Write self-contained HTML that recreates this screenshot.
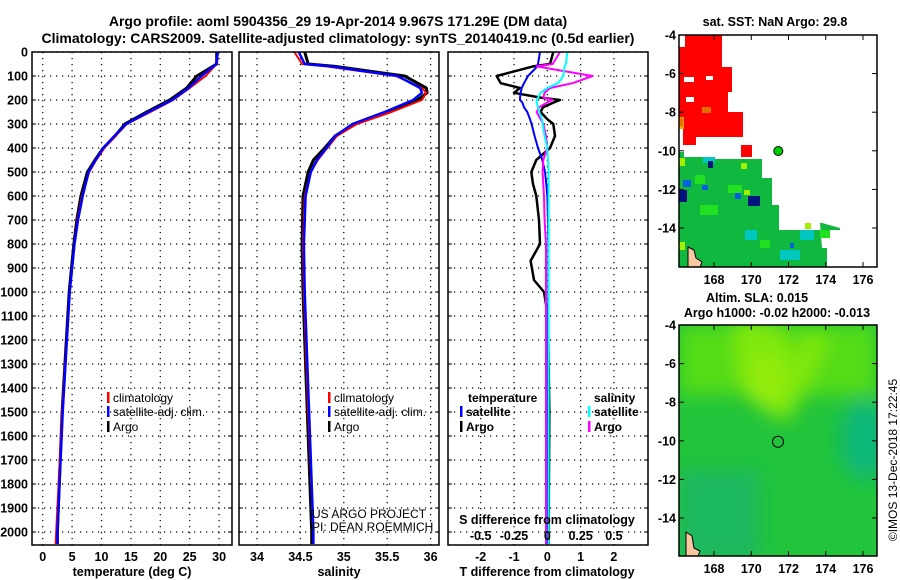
<!DOCTYPE html>
<html><head><meta charset="utf-8"><style>
body{margin:0;background:#fff}
svg{display:block;font-family:"Liberation Sans",sans-serif}
.b{font-weight:bold}
</style></head><body>
<svg id="c" width="900" height="580" viewBox="0 0 900 580">
<defs>
<filter id="bl" x="-50%" y="-50%" width="200%" height="200%"><feGaussianBlur stdDeviation="9"/></filter>
<clipPath id="m2c"><rect x="679" y="325" width="198" height="231"/></clipPath>
<clipPath id="m1c"><rect x="679" y="35" width="198" height="232"/></clipPath>
</defs>
<g id="titles">
<text x="338" y="26" text-anchor="middle" class="b" font-size="14">Argo profile: aoml 5904356_29 19-Apr-2014 9.967S 171.29E (DM data)</text>
<text x="338" y="43" text-anchor="middle" class="b" font-size="14">Climatology: CARS2009. Satellite-adjusted climatology: synTS_20140419.nc (0.5d earlier)</text>
</g>
<g id="grid"></g>
<g id="lines"></g>
<g id="frames"></g>
<g id="labels" class="b" font-size="12.5"></g>

<!-- Map 1 -->
<g clip-path="url(#m1c)">
<rect x="679" y="35" width="198" height="232" fill="#fff"/>
<g fill="#ff0000">
<rect x="679" y="35" width="43" height="32"/><rect x="679" y="67" width="53" height="25"/>
<rect x="679" y="92" width="49" height="20"/><rect x="679" y="76" width="10" height="40"/>
<rect x="679" y="112" width="53" height="15"/><rect x="695" y="112" width="47" height="25"/>
<rect x="683" y="127" width="13" height="18"/><rect x="722" y="112" width="21" height="25"/>
<rect x="741" y="145" width="11" height="12"/>
</g>
<rect x="679" y="35" width="6" height="12" fill="#fff"/><rect x="684" y="77" width="10" height="5" fill="#fff"/>
<rect x="706" y="76" width="7" height="4" fill="#fff"/><rect x="686" y="97" width="8" height="5" fill="#fff"/>
<rect x="679" y="117" width="5" height="12" fill="#ffa000"/><rect x="680" y="118" width="3" height="8" fill="#f07000"/>
<rect x="702" y="107" width="9" height="6" fill="#e07000"/>
<path d="M679 152 L684 152 L684 157 L706 157 L706 159 L762 159 L762 178 L772 178 L772 205 L779 205 L779 230 L805 230 L840 230 L840 228 L822 223 L820 223 L822 248 L827 248 L827 262 L827 267 L679 267Z" fill="#10b840"/>
<g fill="#00c8c0"><rect x="703" y="157" width="12" height="6"/><rect x="800" y="230" width="14" height="10"/><rect x="745" y="230" width="12" height="10"/><rect x="780" y="250" width="20" height="10"/></g>
<g fill="#20e020"><rect x="695" y="175" width="10" height="9"/><rect x="728" y="185" width="14" height="8"/><rect x="700" y="205" width="18" height="10"/><rect x="760" y="240" width="10" height="8"/><rect x="820" y="230" width="10" height="8"/></g>
<g fill="#a0f000"><rect x="679" y="158" width="6" height="8"/><rect x="741" y="163" width="6" height="6"/><rect x="744" y="190" width="6" height="5"/><rect x="805" y="223" width="6" height="6"/><rect x="679" y="242" width="6" height="8"/></g>
<g fill="#0060e0"><rect x="683" y="180" width="8" height="7"/><rect x="702" y="185" width="6" height="5"/><rect x="735" y="193" width="6" height="6"/><rect x="790" y="243" width="4" height="5"/></g>
<g fill="#001480"><rect x="708" y="161" width="5" height="7"/><rect x="679" y="190" width="8" height="12"/><rect x="748" y="196" width="12" height="10"/></g>
<path d="M688 247 L694 250 L696 258 L702 262 L700 267 L688 267Z" fill="#f8c8a0" stroke="#000" stroke-width="1"/>
<circle cx="778.3" cy="151" r="4.5" fill="#00d000" stroke="#000" stroke-width="1"/>
</g>
<rect x="679" y="35" width="198" height="232" fill="none" stroke="#000" stroke-width="1.5"/>

<!-- Map 2 -->
<g clip-path="url(#m2c)">
<rect x="679" y="325" width="198" height="231" fill="#22c43c"/>
<g filter="url(#bl)">
<rect x="679" y="325" width="198" height="70" fill="#55dc14"/>
<path d="M735 320 L775 320 L800 360 L805 330 L830 340 L790 420 L770 415 L745 395 L735 360Z" fill="#80e810"/>
<ellipse cx="767" cy="380" rx="18" ry="25" fill="#96ec08"/>
<ellipse cx="865" cy="440" rx="25" ry="40" fill="#10b878"/>
<rect x="679" y="470" width="80" height="90" fill="#1cb860"/>
</g>
<path d="M686 532 L692 536 L694 548 L700 551 L698 556 L686 556Z" fill="#f8c8a0" stroke="#000" stroke-width="1"/>
<circle cx="778" cy="441.7" r="5.5" fill="none" stroke="#000" stroke-width="1"/>
</g>
<rect x="679" y="325" width="198" height="231" fill="none" stroke="#000" stroke-width="1.5"/>
<g class="b" font-size="12.5">
<text x="775" y="26" text-anchor="middle">sat. SST: NaN Argo: 29.8</text>
<text x="757" y="302" text-anchor="middle">Altim. SLA: 0.015</text>
<text x="777" y="317" text-anchor="middle">Argo h1000: -0.02 h2000: -0.013</text>
</g>
<text transform="translate(897,460) rotate(-90)" text-anchor="middle" font-size="12">©IMOS 13-Dec-2018 17:22:45</text>
<g id="maplabels" class="b" font-size="12.5"></g>
</svg>
<script>
// ---- data ----
const depthTicks=[0,100,200,300,400,500,600,700,800,900,1000,1100,1200,1300,1400,1500,1600,1700,1800,1900,2000];
const tTicks=[0,5,10,15,20,25,30];
const sTicks=[34,34.5,35,35.5,36];
const dTTicks=[-2,-1,0,1,2];
const dSTicks=[-0.5,-0.25,0,0.25,0.5];
const tempDepth=[0,50,100,150,200,250,300,350,400,450,500,600,700,800,900,1000,1500,2000,2050];
const tempArgo=[29.6,29.6,26.2,24.5,21.6,17.7,14.0,12.3,10.3,8.9,7.6,6.5,5.8,5.3,4.9,4.5,3.3,2.5,2.5];
const tempClim=[29.8,29.6,27.7,25.0,22.2,18.3,14.3,12.4,10.5,9.1,7.9,6.7,5.9,5.4,5.0,4.6,3.3,2.3,2.2];
const tempSat=[29.8,29.5,27.0,24.8,22.0,18.0,14.2,12.2,10.3,9.0,7.8,6.8,6.0,5.4,5.0,4.6,3.4,2.5,2.5];
const salDepth=[0,50,60,100,150,170,200,250,300,350,400,450,500,600,800,1000,1500,2000,2050];
const salArgo=[34.55,34.59,34.90,35.70,35.95,35.96,35.85,35.50,35.12,34.90,34.78,34.65,34.59,34.53,34.52,34.53,34.58,34.63,34.63];
const salClim=[34.43,34.52,34.80,35.60,35.90,35.95,35.90,35.55,35.15,34.92,34.81,34.70,34.62,34.55,34.53,34.54,34.59,34.65,34.65];
const salSat=[34.48,34.55,34.85,35.62,35.88,35.90,35.80,35.47,35.10,34.90,34.80,34.69,34.62,34.56,34.54,34.55,34.60,34.65,34.65];
const diffDepth=[0,50,60,100,130,150,170,190,200,210,230,250,280,300,350,400,450,500,550,600,700,800,870,950,1000,1100,1500,2000,2050];
const dTArgo=[0.18,0.08,-0.43,-1.52,-1.4,-0.82,-1.0,-0.2,0.38,0.2,-0.13,-0.2,0.0,0.18,0.23,0.08,-0.33,-0.48,-0.43,-0.33,-0.25,-0.22,-0.5,-0.4,-0.1,0.02,0.06,0.04,0.04];
const dTSat=[-0.22,-0.28,-0.3,-0.58,-0.7,-0.77,-0.8,-0.82,-0.82,-0.75,-0.7,-0.6,-0.52,-0.47,-0.38,-0.28,-0.15,-0.07,-0.03,0,0.02,0.03,0.03,0.03,0.03,0.02,0.02,0.02,0.02];
const dSArgo=[0.095,0.04,-0.08,0.34,0.19,0.02,-0.02,-0.03,0.04,0.0,-0.06,-0.08,-0.05,-0.03,-0.01,0.0,-0.03,-0.035,-0.03,-0.025,-0.02,-0.01,-0.01,-0.01,-0.01,-0.01,-0.01,-0.01,-0.01];
const dSSat=[0.15,0.14,0.13,0.12,0.08,0.0,-0.05,-0.07,-0.08,-0.08,-0.07,-0.06,-0.04,-0.035,-0.02,0.0,0.005,0.01,0.01,0.01,0.01,0.01,0.01,0.01,0.01,0.01,0.01,0.01,0.01];
const lonTicks=[168,170,172,174,176];
const latTicks=[-4,-6,-8,-10,-12,-14];

// ---- axes ----
const NS='http://www.w3.org/2000/svg';
const yD=d=>52+d*0.24;
const xT=t=>42.7+t*5.88;
const xS=s=>257+(s-34)*86.8;
const xdT=v=>547.3+v*33.3;
const xdS=v=>547.3+v*133.3;
const lonX=l=>714+(l-168)*18.625;
const latY1=a=>35+(-4-a)*19.3;
const latY2=a=>325+(-4-a)*19.3;
const TOP=52,BOT=545;
const panels=[{x0:32,x1:232,fx:xT,ticks:tTicks},{x0:239,x1:439,fx:xS,ticks:sTicks},{x0:448,x1:648,fx:xdT,ticks:dTTicks}];
function mk(tag,attrs,parent){const e=document.createElementNS(NS,tag);for(const k in attrs)e.setAttribute(k,attrs[k]);parent.appendChild(e);return e;}
const G=document.getElementById('grid'),L=document.getElementById('lines'),F=document.getElementById('frames'),T=document.getElementById('labels'),ML=document.getElementById('maplabels');
panels.forEach((p,i)=>{
  depthTicks.forEach(d=>{const l=mk('line',{x1:p.x0,x2:p.x1,y1:yD(d),y2:yD(d),stroke:'#000','stroke-width':1.2,'stroke-dasharray':'1.2 4.8'},G);
    
    
    mk('line',{x1:p.x0,x2:p.x0+4,y1:yD(d),y2:yD(d),stroke:'#000'},G);mk('line',{x1:p.x1-4,x2:p.x1,y1:yD(d),y2:yD(d),stroke:'#000'},G);});
  p.ticks.forEach(t=>{const l=mk('line',{x1:p.fx(t),x2:p.fx(t),y1:TOP,y2:BOT,stroke:'#000','stroke-width':1.2,'stroke-dasharray':'1.2 4.8'},G);
    
    
    const tx=mk('text',{x:p.fx(t),y:561,'text-anchor':'middle'},T);tx.textContent=t;
    
    });
  const r=mk('rect',{x:p.x0,y:TOP,width:p.x1-p.x0,height:BOT-TOP,fill:'none',stroke:'#000','stroke-width':1.5},F);
  
  
});
depthTicks.forEach(d=>{const t=mk('text',{x:28,y:yD(d)+4.5,'text-anchor':'end'},T);t.textContent=d;
  
  });
dSTicks.forEach((s,i)=>{const t=mk('text',{x:xdS(s),y:540,'text-anchor':'middle'},T);t.textContent=s;
  
  });
[['temperature (deg C)',132,576],['salinity',339,576],['T difference from climatology',547,576],['S difference from climatology',547,524]].forEach(a=>{
  const t=mk('text',{x:a[1],y:a[2],'text-anchor':'middle'},T);t.textContent=a[0];
  
  });
function line(depths,vals,fx,col,w,name){
  const pts=depths.map((d,i)=>fx(vals[i]).toFixed(1)+','+Math.min(yD(d),BOT).toFixed(1)).join(' ');
  const pl=mk('polyline',{points:pts,fill:'none',stroke:col,'stroke-width':w,'stroke-linejoin':'round'},L);
  
  
}
line(tempDepth,tempArgo,xT,'#000',3,'temp-argo-line');
line(tempDepth,tempClim,xT,'#f00',2,'temp-climatology-line');
line(tempDepth,tempSat,xT,'#00f',2.5,'temp-satellite-line');
line(salDepth,salArgo,xS,'#000',3,'sal-argo-line');
line(salDepth,salClim,xS,'#f00',2,'sal-climatology-line');
line(salDepth,salSat,xS,'#00f',2.5,'sal-satellite-line');
line(diffDepth,dTArgo,xdT,'#000',2.5,'tdiff-argo-line');
line(diffDepth,dTSat,xdT,'#00f',2,'tdiff-satellite-line');
line(diffDepth,dSArgo,xdS,'#f0f',2,'sdiff-argo-line');
line(diffDepth,dSSat,xdS,'#0ff',2,'sdiff-satellite-line');
// legends
function leg(x,y,col,txt,bold,name){
  const m=mk('rect',{x:x,y:y-10,width:2.5,height:11,fill:col},L);
  
  
  const t=mk('text',{x:x+6,y:y,'font-size':12,'font-weight':bold?'bold':'normal'},L);t.textContent=txt;
  
  
}
leg(107,402,'#f00','climatology',0,'legend-climatology');
leg(107,416,'#00f','satellite-adj. clim.',0,'legend-satellite-clim');
leg(107,431,'#000','Argo',0,'legend-argo');
leg(328,402,'#f00','climatology',0,'legend2-climatology');
leg(328,416,'#00f','satellite-adj. clim.',0,'legend2-satellite-clim');
leg(328,431,'#000','Argo',0,'legend2-argo');
leg(460,416,'#00f','satellite',1,'legend3-t-satellite');
leg(460,431,'#000','Argo',1,'legend3-t-argo');
leg(588,416,'#0ff','satellite',1,'legend3-s-satellite');
leg(588,431,'#f0f','Argo',1,'legend3-s-argo');
[['temperature',468,402],['salinity',594,402]].forEach(a=>{const t=mk('text',{x:a[1],y:a[2],'font-size':12,'font-weight':'bold'},L);t.textContent=a[0];
  
  });
[['US ARGO PROJECT',312,518],['PI: DEAN ROEMMICH',312,531]].forEach(a=>{const t=mk('text',{x:a[1],y:a[2],'font-size':12},L);t.textContent=a[0];
  
  });
// map axes
[[latY1,35,267,284],[latY2,325,556,573]].forEach(m=>{
  lonTicks.forEach(l=>{const x=lonX(l);mk('line',{x1:x,x2:x,y1:m[1],y2:m[1]+5,stroke:'#000'},ML);mk('line',{x1:x,x2:x,y1:m[2]-5,y2:m[2],stroke:'#000'},ML);
    const t=mk('text',{x:x,y:m[3],'text-anchor':'middle'},ML);t.textContent=l;
    
    });
  latTicks.forEach(a=>{const y=m[0](a);mk('line',{x1:679,x2:684,y1:y,y2:y,stroke:'#000'},ML);mk('line',{x1:872,x2:877,y1:y,y2:y,stroke:'#000'},ML);
    const t=mk('text',{x:676,y:y+4.5,'text-anchor':'end'},ML);t.textContent=a;
    
    });
});
</script>
</body></html>
